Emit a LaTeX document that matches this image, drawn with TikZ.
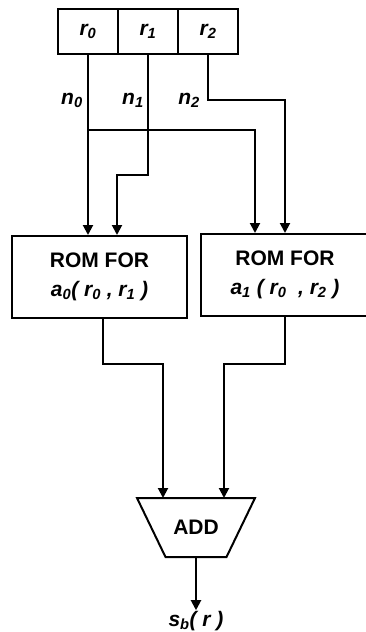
\documentclass[tikz,border=0pt]{standalone}
\usepackage{fontspec}
\setmainfont{Liberation Sans}
\usetikzlibrary{arrows.meta,calc}
\begin{document}
\begin{tikzpicture}[x=1pt,y=-1pt, line width=2pt,
  cell/.style={draw, minimum width=60pt, minimum height=45pt, inner sep=0pt, font=\fontsize{21}{24}\selectfont\bfseries\itshape},
  rom/.style={draw, inner sep=0pt, align=center, minimum height=82pt, font=\fontsize{21}{29}\selectfont\bfseries},
  arr/.style={-{Triangle[length=10pt,width=10pt]}},
  lab/.style={font=\fontsize{21}{24}\selectfont\bfseries\itshape, inner sep=0pt}]
\clip (0,0) rectangle (366,632);
\node[cell] (r0) at (88,31.5) {r\textsubscript{0}};
\node[cell] (r1) at (148,31.5) {r\textsubscript{1}};
\node[cell] (r2) at (208,31.5) {r\textsubscript{2}};
\node[lab] (n0) at (72,100) {n\textsubscript{0}};
\node[lab] (n1) at (133,100) {n\textsubscript{1}};
\node[lab] (n2) at (189,100) {n\textsubscript{2}};
\node[rom, minimum width=175pt] (rom0) at (99.5,277) {ROM FOR\\{\itshape a\textsubscript{0}( r\textsubscript{0} , r\textsubscript{1} )}};
\node[rom, minimum width=168pt] (rom1) at (285,275) {ROM FOR\\{\itshape a\textsubscript{1} ( r\textsubscript{0}\ \ , r\textsubscript{2} )}};
\node[minimum width=116pt, minimum height=57pt, inner sep=0pt, font=\fontsize{21}{24}\selectfont\bfseries] (add) at (196,527.5) {\raisebox{-5pt}{ADD}};
\draw (add.north west) -- (add.north east) -- ($(add.south east)+(-28.5,0)$) -- ($(add.south west)+(28.5,0)$) -- cycle;
\node[lab] (sb) at (196,621) {s\textsubscript{b}( r )};
% inputs
\draw[arr] (r0.south) -- (r0.south |- rom0.north);
\coordinate (j0) at (88,130);
\coordinate (j1) at (255,130);
\draw[arr] (j0) -- (j1) -- (j1 |- rom1.north);
\coordinate (k1) at (117,175);
\draw[arr] (r1.south) |- (k1) -- (k1 |- rom0.north);
\coordinate (k2) at (285,100);
\draw[arr] (r2.south) |- (k2) -- (k2 |- rom1.north);
% outputs
\coordinate (o0) at (103,318);
\coordinate (a0) at (163,364);
\draw[arr] (o0) |- (a0) -- (a0 |- add.north);
\coordinate (a1) at (224,364);
\draw[arr] (rom1.south) |- (a1) -- (a1 |- add.north);
\draw[arr] (add.south) -- (add.south |- sb.north);
\end{tikzpicture}
\end{document}
